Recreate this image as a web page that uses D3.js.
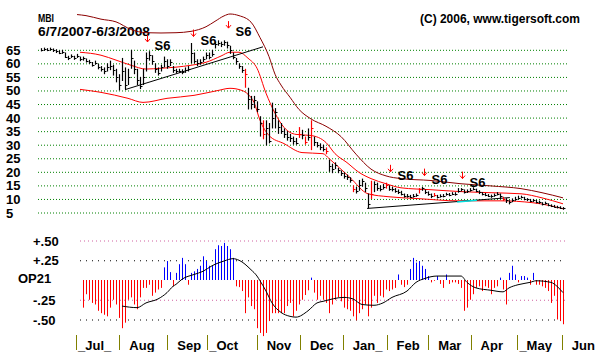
<!DOCTYPE html>
<html>
<head>
<meta charset="utf-8">
<script src="https://cdn.jsdelivr.net/npm/d3@7"></script>
<style>
body { margin: 0; background: #fff; }
svg { display: block; font-family: "Liberation Sans", Arial, sans-serif; font-weight: bold; }
</style>
</head>
<body>
<svg id="chart" width="609" height="352"></svg>
<script>
// daily-ish bars, index 0 = 6/7/2007, index 174 = 6/3/2008
const barClose = [
  65.0,65.2,65.0,65.3,64.8,64.5,64.0,64.3,62.5,61.8,
  62.6,62.0,62.8,61.5,61.8,61.0,60.5,59.5,60.2,58.5,
  58.0,57.0,58.5,59.0,57.5,55.0,52.0,57.0,52.0,55.0,
  62.0,58.0,54.0,51.5,55.0,62.0,63.0,61.0,58.0,56.5,
  58.5,61.0,59.0,60.5,57.5,57.0,57.3,56.8,57.5,58.0,
  64.0,61.0,60.0,60.5,61.5,63.0,62.5,63.5,67.0,67.5,
  67.0,67.8,66.8,65.0,62.5,61.0,59.0,57.5,56.0,47.0,
  45.0,46.5,43.0,38.0,34.0,36.0,31.5,40.0,42.0,36.5,
  35.0,34.0,33.0,32.5,31.5,30.5,34.0,33.5,31.0,33.0,
  36.0,31.0,30.0,29.0,28.5,27.5,22.0,21.0,22.5,20.5,
  19.5,18.5,18.0,17.0,13.5,13.0,15.0,16.5,14.0,8.0,
  12.0,15.5,14.0,13.5,14.5,15.0,13.8,13.5,13.0,12.5,
  12.0,11.0,11.2,10.8,11.0,11.5,13.5,14.0,12.5,12.0,
  11.0,11.5,10.8,11.0,11.2,11.8,11.5,12.0,11.8,13.0,
  13.5,12.5,12.8,13.3,13.8,13.0,12.5,11.8,11.5,11.2,
  11.0,11.5,12.0,11.0,10.0,9.5,8.8,9.5,10.0,10.5,
  10.8,10.0,9.8,9.3,9.5,9.0,8.8,8.2,8.5,7.8,
  7.5,7.2,7.0,6.8,6.5
];
const barHigh = [
  65.6,65.8,65.6,65.8,65.5,65.2,64.8,65.0,64.0,62.8,
  63.3,62.8,63.5,62.5,62.5,61.8,61.3,60.5,61.0,59.8,
  59.0,58.5,60.0,61.0,59.5,58.0,56.0,62.0,58.5,58.0,
  65.0,61.0,58.0,55.0,58.0,64.0,64.5,63.0,60.0,58.5,
  59.5,62.5,61.5,61.5,59.0,58.0,58.0,57.8,58.5,59.0,
  67.5,64.0,61.5,61.5,62.5,64.0,64.0,65.0,68.0,68.5,
  68.0,68.5,68.0,66.5,64.0,62.0,60.0,59.0,58.0,51.0,
  48.0,48.0,46.0,40.5,39.0,39.0,38.0,45.5,43.5,39.0,
  38.0,36.0,35.0,34.0,33.0,32.5,36.5,35.5,33.0,36.0,
  39.0,33.0,31.0,30.5,30.0,29.0,24.5,23.0,23.5,21.5,
  20.5,19.8,19.0,18.0,15.0,14.5,17.0,17.5,16.0,12.0,
  16.7,16.5,16.0,15.0,15.5,16.0,15.0,14.5,14.0,13.5,
  13.0,12.0,11.8,11.5,11.8,12.0,14.0,14.5,13.5,12.8,
  12.0,12.2,11.5,11.7,11.8,12.3,12.2,12.5,12.5,14.0,
  14.0,13.5,13.5,14.0,14.3,13.8,13.2,12.5,12.2,11.8,
  11.6,12.0,12.5,12.0,10.8,10.3,9.5,10.2,10.8,11.2,
  11.2,10.8,10.3,10.0,10.0,9.6,9.4,8.8,9.0,8.4,
  8.0,7.8,7.5,7.3,7.0
];
const barLow = [
  64.4,64.6,64.5,64.7,64.2,63.8,63.4,63.5,62.0,61.2,
  62.0,61.3,62.0,60.8,61.0,60.3,59.8,58.8,59.5,57.8,
  57.0,56.0,57.0,57.5,55.5,53.0,50.0,53.5,50.5,52.0,
  58.0,56.0,52.0,50.5,52.0,57.0,61.0,59.5,56.5,55.5,
  57.0,58.5,58.0,59.0,56.5,56.3,56.5,56.0,56.5,57.0,
  60.0,60.0,59.0,59.5,60.5,61.5,61.5,62.5,65.5,66.5,
  66.0,66.5,65.5,63.5,61.5,59.5,58.0,56.5,51.0,43.0,
  43.0,43.5,42.0,33.0,32.0,29.7,30.5,36.0,36.0,34.0,
  34.0,32.5,31.5,31.0,30.0,30.0,32.5,32.0,30.0,31.5,
  28.0,29.5,29.0,28.0,27.5,26.5,20.0,19.5,21.0,19.5,
  18.5,17.5,17.0,16.0,12.5,12.0,13.0,14.5,12.5,6.5,
  10.0,12.5,13.0,12.8,13.5,13.8,13.0,12.8,12.3,11.8,
  11.3,10.5,10.5,10.3,10.5,10.8,12.0,13.0,11.8,11.2,
  10.3,10.8,10.2,10.5,10.6,11.2,11.0,11.4,11.2,12.3,
  12.8,12.0,12.2,12.7,13.2,12.5,11.8,11.3,11.0,10.7,
  10.4,10.8,11.3,10.0,9.3,8.5,8.0,8.8,9.3,9.8,
  10.2,9.5,9.2,8.8,8.9,8.4,8.2,7.6,7.9,7.3,
  7.0,6.8,6.5,6.3,6.0
];
const redBars = [68, 74, 86, 88, 90, 95, 104, 110, 115, 126, 131, 154];

// bands: [bar index, price]
const upperBand = [[12,78.0],[15,77.6],[20,76.3],[25,75.3],[30,72.5],[35,71.3],[40,71.2],[45,71.3],[50,71.8],[55,73.5],[58,75.5],[61,77.5],[63,78.2],[66,77.6],[70,75.2],[73,69.5],[76,62.5],[78,56.0],[80,52.0],[83,47.5],[86,43.0],[90,39.5],[95,36.8],[100,33.0],[105,26.5],[110,21.0],[115,18.5],[120,17.5],[130,16.8],[140,15.6],[150,14.8],[160,13.8],[167,12.3],[174,10.4]];
const midBand = [[13,64.1],[20,63.0],[25,61.2],[30,59.3],[35,57.9],[40,58.2],[45,58.6],[50,59.3],[55,60.4],[60,62.7],[63,64.1],[66,64.1],[69,61.9],[72,58.2],[75,49.0],[78,41.6],[81,36.4],[85,33.8],[90,33.4],[95,30.8],[98,26.7],[102,23.4],[106,19.8],[110,17.5],[115,15.6],[120,14.1],[130,13.4],[140,12.7],[150,12.3],[160,11.9],[167,10.4],[174,8.2]];
const lowerBand = [[13,50.4],[20,49.3],[29,47.1],[34,45.6],[42,47.1],[51,48.2],[59,50.0],[63,50.8],[67,50.0],[69,48.6],[71,45.6],[73,39.0],[76,33.4],[81,30.4],[87,27.1],[94,26.7],[96,24.9],[103,17.9],[109,11.9],[116,10.8],[126,10.1],[139,9.3],[153,9.3],[164,8.6],[174,6.4]];

const trendUp = [[28,50.3],[74,66.1]];
const trendLow = [[108.7,6.5],[156.3,10.5]];
const trendHighlight = [[138.7,8.9],[145.3,9.5]];

// S6 sell signals: [bar index, arrow tip price]
const signals = [[35.3,67.9],[50.6,69.9],[62.4,73.0],[116.3,20.0],[127.8,18.6],[140.4,17.5]];

const priceTicks = [65, 60, 55, 50, 45, 40, 35, 30, 25, 20, 15, 10, 5];

// OP21 oscillator, bars from index 14 to 174
const opStart = 14;
const opValues = [
  -0.35,-0.18,-0.25,-0.29,-0.31,-0.39,-0.42,-0.44,-0.46,-0.35,
  -0.25,-0.31,-0.48,-0.61,-0.54,-0.25,-0.22,-0.31,-0.37,-0.22,
  -0.10,-0.10,-0.06,-0.20,-0.16,-0.12,-0.10,0.16,0.24,0.10,
  -0.08,0.09,0.20,0.28,0.20,-0.06,0.09,0.11,0.14,0.18,
  0.30,0.24,0.18,0.18,0.39,0.44,0.43,0.47,0.43,0.39,
  0.28,-0.08,-0.09,-0.14,-0.42,-0.22,-0.33,-0.37,-0.61,-0.67,
  -0.71,-0.67,-0.52,-0.42,-0.42,-0.42,-0.42,-0.42,-0.33,-0.29,
  -0.46,-0.39,-0.31,-0.25,-0.19,-0.13,0.03,-0.16,-0.25,-0.20,
  -0.25,-0.29,-0.42,-0.31,-0.25,-0.22,-0.27,-0.35,-0.37,-0.39,
  -0.46,-0.51,-0.42,-0.37,-0.31,-0.46,-0.35,-0.20,-0.29,-0.20,
  -0.22,-0.12,-0.14,-0.12,-0.10,0.07,-0.06,-0.09,-0.06,0.14,
  0.28,0.22,0.24,0.18,0.14,0.05,-0.03,-0.01,0.05,-0.05,
  -0.10,0.07,-0.05,-0.03,-0.03,-0.05,-0.10,-0.39,-0.35,-0.25,
  -0.18,-0.10,-0.08,-0.14,-0.08,-0.10,-0.18,-0.10,-0.08,0.03,
  -0.12,-0.31,0.09,0.18,0.07,-0.03,0.05,0.05,0.03,-0.06,
  0.09,-0.06,-0.06,-0.08,-0.10,-0.14,-0.29,-0.20,-0.50,-0.52,-0.56
];
const opAverage = [[27,-0.33],[32,-0.35],[35,-0.29],[39,-0.24],[42,-0.16],[44,-0.08],[45,-0.055],[47,0.01],[51,0.07],[54,0.11],[57,0.18],[61,0.24],[64,0.27],[66,0.25],[70,0.13],[72,0.05],[73,-0.01],[75,-0.14],[77,-0.29],[80,-0.41],[83,-0.46],[85,-0.47],[89,-0.39],[92,-0.29],[94,-0.27],[101,-0.22],[104,-0.24],[107,-0.31],[111,-0.32],[114,-0.29],[117,-0.22],[122,-0.14],[125,-0.03],[128,0.02],[132,0.05],[140,0.05],[142,-0.03],[145,-0.10],[150,-0.13],[154,-0.15],[156,-0.10],[159,-0.06],[163,-0.03],[165,-0.01],[170,-0.03],[172,-0.08],[174,-0.16]];
const opLevels = [0.5, 0.25, -0.25, -0.5];
const opLabels = ["+.50", "+.25", "-.25", "-.50"];

const monthLabels = ["_Jul_", "Aug", "Sep", "_Oct", "Nov", "Dec", "Jan_", "Feb", "Mar", "Apr", "_May", "Jun"];
const monthTicks = [11.7, 26.1, 42.1, 55.4, 71.9, 86.3, 100.6, 115.2, 129.1, 143.2, 158.8, 173.6];

const svg = d3.select('#chart');

const x = d3.scaleLinear().domain([0, 174]).range([41, 563]);
const y = d3.scaleLinear().domain([5, 65]).range([212.5, 49.8]);
const yo = d3.scaleLinear().domain([-0.5, 0.5]).range([319.5, 240.5]);

// titles
svg.append('text').attr('x', 38).attr('y', 21.5).attr('font-size', 11)
    .attr('textLength', 16).attr('lengthAdjust', 'spacingAndGlyphs').text('MBI');
svg.append('text').attr('x', 38).attr('y', 35.5).attr('font-size', 12)
    .attr('textLength', 112).attr('lengthAdjust', 'spacingAndGlyphs').text('6/7/2007-6/3/2008');
svg.append('text').attr('x', 420).attr('y', 23).attr('font-size', 12)
    .attr('textLength', 160).attr('lengthAdjust', 'spacingAndGlyphs').text('(C) 2006, www.tigersoft.com');

// price grid
svg.append('g').selectAll('line').data(priceTicks).enter().append('line')
    .attr('x1', 38).attr('x2', 567)
    .attr('y1', d => y(d) + 0.5).attr('y2', d => y(d) + 0.5)
    .attr('stroke', '#008000').attr('stroke-dasharray', '1,2');
svg.append('g').selectAll('text').data(priceTicks).enter().append('text')
    .attr('x', 6).attr('y', d => y(d) + 5)
    .attr('font-size', 13)
    .text(d => d);

// bands
const bandLine = d3.line().x(d => x(d[0])).y(d => y(d[1])).curve(d3.curveMonotoneX);
svg.append('path').datum(upperBand).attr('d', bandLine).attr('fill', 'none').attr('stroke', '#8b0000');
svg.append('path').datum(midBand).attr('d', bandLine).attr('fill', 'none').attr('stroke', '#ff0000');
svg.append('path').datum(lowerBand).attr('d', bandLine).attr('fill', 'none').attr('stroke', '#ff0000');

// trendlines
const straight = d3.line().x(d => x(d[0])).y(d => y(d[1]));
svg.append('path').datum(trendUp).attr('d', straight).attr('stroke', '#000').attr('fill', 'none');
svg.append('path').datum(trendLow).attr('d', straight).attr('stroke', '#000').attr('fill', 'none');
svg.append('path').datum(trendHighlight).attr('d', straight).attr('stroke', '#00e0e0').attr('stroke-width', 1.5).attr('fill', 'none');

// price bars
const bars = svg.append('g');
barClose.forEach((c, i) => {
    const col = redBars.includes(i) ? '#ff0000' : '#000';
    const bx = Math.round(x(i)) + 0.5;
    bars.append('line')
        .attr('x1', bx).attr('x2', bx)
        .attr('y1', y(barHigh[i])).attr('y2', y(barLow[i]))
        .attr('stroke', col).attr('stroke-width', 1.2);
    bars.append('line')
        .attr('x1', bx).attr('x2', bx + 2)
        .attr('y1', Math.round(y(c)) + 0.5).attr('y2', Math.round(y(c)) + 0.5)
        .attr('stroke', col);
});

// S6 signals
const sig = svg.append('g').selectAll('g').data(signals).enter().append('g')
    .attr('transform', d => `translate(${Math.round(x(d[0])) + 0.5},${y(d[1])})`);
sig.append('line').attr('y1', -7).attr('y2', 0).attr('stroke', '#ff0000');
sig.append('path').attr('d', 'M-2.5,-3L0,0L2.5,-3').attr('fill', 'none').attr('stroke', '#ff0000');
sig.append('text').attr('x', 7).attr('y', 8).attr('font-size', 13).text('S6');

// OP21 panel
svg.append('g').selectAll('line').data(opLevels).enter().append('line')
    .attr('x1', 80).attr('x2', 565)
    .attr('y1', d => yo(d) + 0.5).attr('y2', d => yo(d) + 0.5)
    .attr('stroke', (d, i) => i % 2 === 0 ? '#d060a0' : '#000')
    .attr('stroke-dasharray', (d, i) => i % 2 === 0 ? '1,3' : '1,5');
svg.append('g').selectAll('text').data(opLevels).enter().append('text')
    .attr('x', 33).attr('y', d => yo(d) + 5)
    .attr('font-size', 13)
    .text((d, i) => opLabels[i]);
svg.append('text').attr('x', 18).attr('y', yo(0) + 3).attr('font-size', 13).text('OP21');

svg.append('g').selectAll('line').data(opValues).enter().append('line')
    .attr('x1', (d, i) => Math.round(x(opStart + i)) + 0.5)
    .attr('x2', (d, i) => Math.round(x(opStart + i)) + 0.5)
    .attr('y1', yo(0))
    .attr('y2', d => yo(d))
    .attr('stroke', d => d >= 0 ? '#0000ff' : '#ff0000');

const opLine = d3.line().x(d => x(d[0])).y(d => yo(d[1])).curve(d3.curveMonotoneX);
svg.append('path').datum(opAverage).attr('d', opLine).attr('fill', 'none').attr('stroke', '#000');

// month axis
svg.append('g').selectAll('line').data(monthTicks).enter().append('line')
    .attr('x1', d => Math.round(x(d)) + 0.5).attr('x2', d => Math.round(x(d)) + 0.5)
    .attr('y1', 335).attr('y2', 350)
    .attr('stroke', '#808000');
svg.append('g').selectAll('text').data(monthTicks).enter().append('text')
    .attr('x', (d, i) => x(d) + (monthLabels[i].startsWith('_') ? 2 : 10))
    .attr('y', 350)
    .attr('font-size', 13)
    .text((d, i) => monthLabels[i]);
</script>
</body>
</html>
